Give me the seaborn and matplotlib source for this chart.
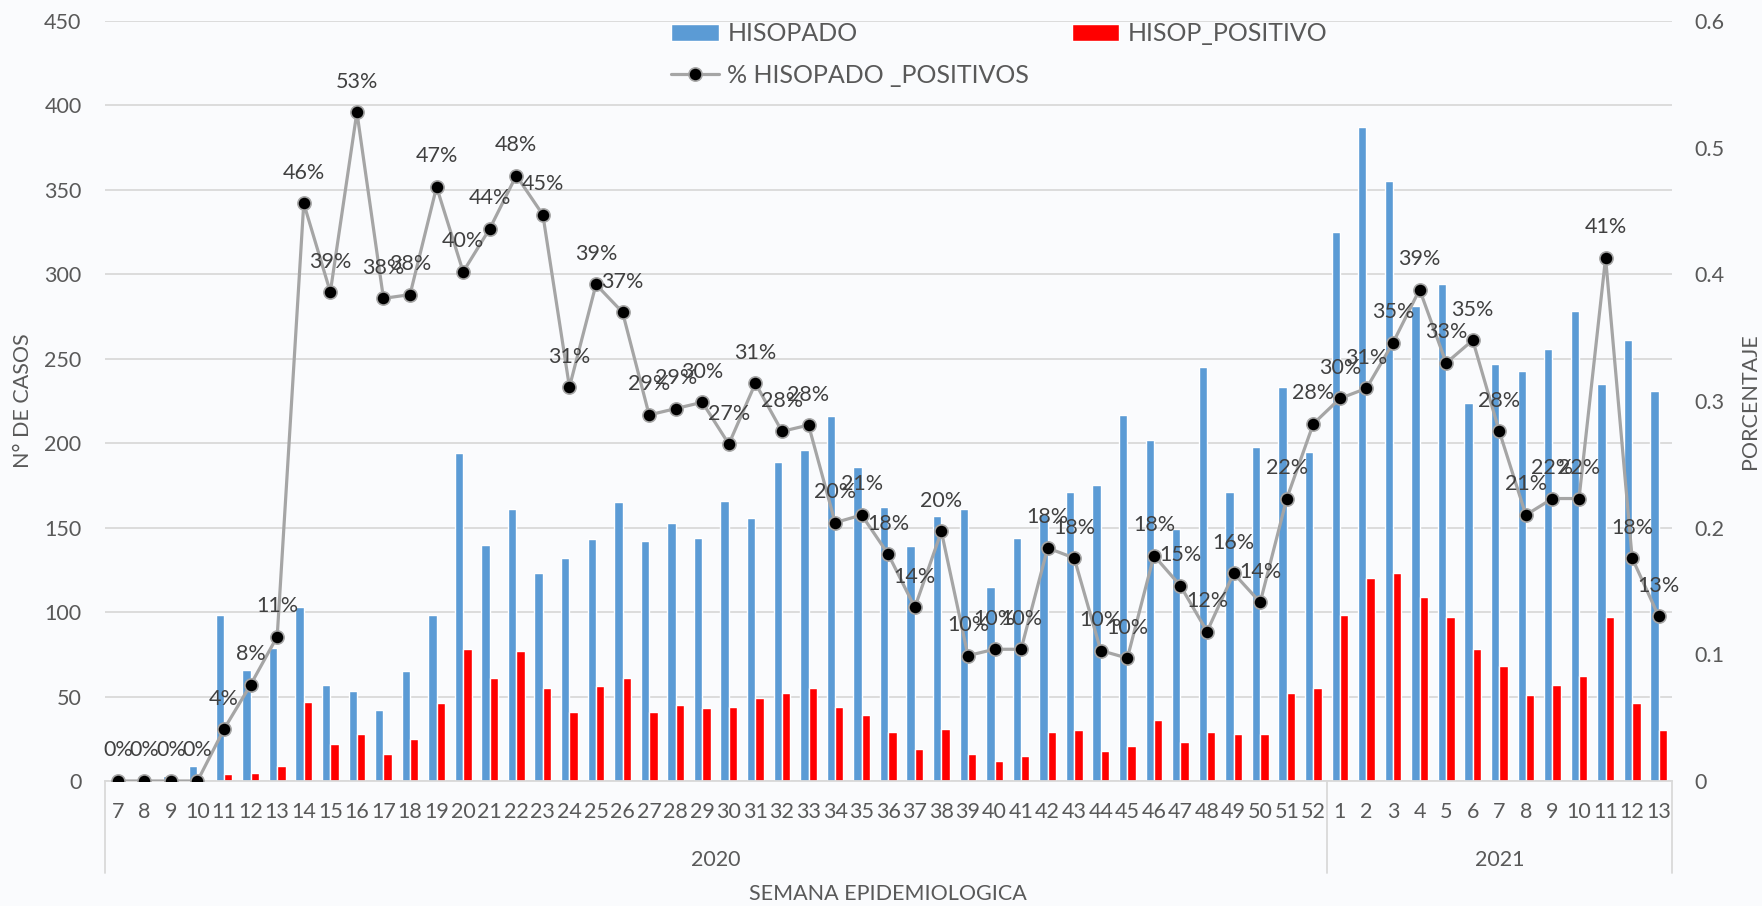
# Hisopados por semana epidemiologica (2020 - 2021)
import numpy as np
import pandas as pd
import matplotlib
matplotlib.use("Agg")
import matplotlib.pyplot as plt
import matplotlib.transforms as mtransforms
import seaborn as sns

# -------------------------------------------
# Data
# -------------------------------------------
weeks_2020 = [7, 8, 9, 10, 11, 12, 13, 14, 15, 16, 17, 18, 19, 20, 21, 22, 23, 24,
              25, 26, 27, 28, 29, 30, 31, 32, 33, 34, 35, 36, 37, 38, 39, 40, 41,
              42, 43, 44, 45, 46, 47, 48, 49, 50, 51, 52]
weeks_2021 = [1, 2, 3, 4, 5, 6, 7, 8, 9, 10, 11, 12, 13]

hisopado = [1, 1, 3, 9, 98, 66, 79, 103, 57, 53, 42, 65, 98, 194, 140, 161, 123, 132,
            143, 165, 142, 153, 144, 166, 156, 189, 196, 216, 186, 162, 139, 157, 161,
            115, 144, 158, 171, 175, 217, 202, 149, 245, 171, 198, 233, 195,
            325, 387, 355, 281, 294, 224, 247, 243, 256, 278, 235, 261, 231]

hisop_positivo = [0, 0, 0, 0, 4, 5, 9, 47, 22, 28, 16, 25, 46, 78, 61, 77, 55, 41,
                  56, 61, 41, 45, 43, 44, 49, 52, 55, 44, 39, 29, 19, 31, 16,
                  12, 15, 29, 30, 18, 21, 36, 23, 29, 28, 28, 52, 55,
                  98, 120, 123, 109, 97, 78, 68, 51, 57, 62, 97, 46, 30]

pct_positivos = [0, 0, 0, 0, 0.041, 0.076, 0.114, 0.456, 0.386, 0.528, 0.381, 0.384,
                 0.469, 0.402, 0.436, 0.478, 0.447, 0.311, 0.392, 0.370, 0.289, 0.294,
                 0.299, 0.266, 0.314, 0.276, 0.281, 0.204, 0.210, 0.179, 0.137, 0.197,
                 0.099, 0.104, 0.104, 0.184, 0.176, 0.103, 0.097, 0.178, 0.154, 0.118,
                 0.164, 0.141, 0.223, 0.282,
                 0.302, 0.310, 0.346, 0.388, 0.330, 0.348, 0.276, 0.210, 0.223, 0.223,
                 0.413, 0.176, 0.130]

left_ticks = [0, 50, 100, 150, 200, 250, 300, 350, 400, 450]
right_ticks = [0, 0.1, 0.2, 0.3, 0.4, 0.5, 0.6]

# -------------------------------------------
# Build the table
# -------------------------------------------
keys = [f"2020-{w}" for w in weeks_2020] + [f"2021-{w}" for w in weeks_2021]
week_labels = [str(w) for w in weeks_2020 + weeks_2021]
n = len(keys)

df = pd.DataFrame({
    "semana": keys * 2,
    "casos": hisopado + hisop_positivo,
    "serie": ["HISOPADO"] * n + ["HISOP_POSITIVO"] * n,
})

# -------------------------------------------
# Plot
# -------------------------------------------
sns.set_style("white")
plt.rcParams["font.family"] = ["Lato", "DejaVu Sans"]
text_col = "#595959"
grid_col = "#D9D9D9"
bg = "#FAFBFD"

fig = plt.figure(figsize=(17.62, 9.06), dpi=100, facecolor=bg)
ax = fig.add_axes([104.5 / 1762, 1 - 781 / 906, (1672 - 104.5) / 1762, 760 / 906])
ax.set_facecolor(bg)

sns.barplot(data=df, x="semana", y="casos", hue="serie",
            palette={"HISOPADO": "#5B9BD5", "HISOP_POSITIVO": "#FF0000"},
            width=0.63, gap=0, saturation=1, errorbar=None, legend=False, ax=ax)

ax.set_ylim(0, 450)
ax.set_yticks(left_ticks)
ax.set_xlim(-0.5, n - 0.5)
ax.set_xticks(range(n))
ax.set_xticklabels(week_labels)
ax.set_xlabel("")
ax.set_ylabel("")
ax.grid(axis="y", color=grid_col, lw=1.3)
ax.set_axisbelow(True)
ax.tick_params(axis="x", length=0, pad=15, labelsize=15.5, labelcolor=text_col)
ax.tick_params(axis="y", length=0, pad=16.5, labelsize=15.5, labelcolor=text_col)
for s in ["top", "left", "right"]:
    ax.spines[s].set_visible(False)
ax.spines["bottom"].set_color(grid_col)
ax.spines["bottom"].set_linewidth(1.3)

# percentage line on the secondary axis
ax2 = ax.twinx()
sns.lineplot(x=np.arange(n), y=pct_positivos, ax=ax2, color="#A5A5A5", lw=2.3,
             marker="o", markersize=9.5, markerfacecolor="black",
             markeredgecolor="#A5A5A5", markeredgewidth=1.2)
ax2.set_ylim(0, 0.6)
ax2.set_yticks(right_ticks)
ax2.set_yticklabels([f"{t:g}" for t in right_ticks])
ax2.tick_params(axis="y", length=0, pad=16, labelsize=15.5, labelcolor=text_col)
ax2.set_ylabel("")
for s in ax2.spines.values():
    s.set_visible(False)
ax.set_xlim(-0.5, n - 0.5)

for i, p in enumerate(pct_positivos):
    ax2.annotate(f"{p:.0%}", (i, p), xytext=(0, 22), textcoords="offset points",
                 ha="center", va="center", fontsize=15.5, color="#404040")

# year grouping under the week numbers
trans = mtransforms.blended_transform_factory(ax.transData, ax.transAxes)
n20 = len(weeks_2020)
for xb in [-0.5, n20 - 0.5, n - 0.5]:
    ax.plot([xb, xb], [0, -0.121], transform=trans, color=grid_col, lw=1.3,
            clip_on=False)
ax.text((n20 - 1) / 2, -0.104, "2020", transform=trans, ha="center", va="center",
        fontsize=15.5, color=text_col)
ax.text(n20 + (len(weeks_2021) - 1) / 2, -0.104, "2021", transform=trans,
        ha="center", va="center", fontsize=15.5, color=text_col)

# axis titles
fig.text(888 / 1762, 1 - 894 / 906, "SEMANA EPIDEMIOLOGICA", ha="center", va="center",
         fontsize=15.5, color=text_col)
fig.text(23 / 1762, 1 - 401 / 906, "N° DE CASOS", rotation=90, ha="center",
         va="center", fontsize=15.5, color=text_col)
fig.text(1750 / 1762, 1 - 401 / 906, "PORCENTAJE", rotation=90, ha="center",
         va="center", fontsize=15.5, color=text_col)

# legend: HISOPADO / HISOP_POSITIVO on the first row, the line below
line = ax2.lines[0]
fig.legend([ax.containers[0], line, ax.containers[1]],
           ["HISOPADO", "% HISOPADO _POSITIVOS", "HISOP_POSITIVO"],
           ncol=2, loc="upper left", bbox_to_anchor=(671 / 1762, 1 - 22 / 906),
           frameon=False, fontsize=18, labelcolor=text_col, handlelength=1.9,
           handletextpad=0.35, columnspacing=1.7, labelspacing=0.75,
           borderpad=0, borderaxespad=0)

fig.savefig("out.png", dpi=100, facecolor=bg)
